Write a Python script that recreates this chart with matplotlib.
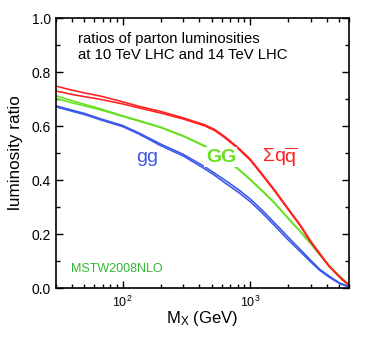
import numpy as np
import matplotlib
matplotlib.use("Agg")
import matplotlib.pyplot as plt
from matplotlib.ticker import LogLocator, MultipleLocator, FormatStrFormatter

plt.rcParams['font.family'] = ['Liberation Sans', 'DejaVu Sans']
plt.rcParams['mathtext.fontset'] = 'custom'
plt.rcParams['mathtext.rm'] = 'Liberation Sans'
plt.rcParams['mathtext.it'] = 'Liberation Sans:italic'
plt.rcParams['mathtext.bf'] = 'Liberation Sans:bold'

# %% data (centre value and half width of each band)
mass = [30, 40, 50, 67, 100, 135, 200, 300, 440, 530, 630, 800, 1000, 1250, 1570,
        2050, 2460, 3000, 3540, 4200, 5080, 6000]

qqbar = [0.739, 0.725, 0.716, 0.705, 0.686, 0.670, 0.651, 0.628, 0.603, 0.585, 0.560, 0.520,
         0.477, 0.420, 0.360, 0.285, 0.235, 0.172, 0.126, 0.080, 0.040, 0.010]
qqbar_err = [0.009, 0.008, 0.007, 0.006, 0.004, 0.003, 0.003, 0.002, 0.002, 0.002, 0.002, 0.002,
             0.002, 0.002, 0.002, 0.002, 0.002, 0.002, 0.002, 0.001, 0.001, 0.001]

GG = [0.707, 0.690, 0.678, 0.662, 0.637, 0.619, 0.595, 0.563, 0.526, 0.503, 0.478, 0.443,
      0.403, 0.360, 0.314, 0.252, 0.212, 0.165, 0.124, 0.082, 0.043, 0.012]
GG_err = [0.005, 0.004, 0.003, 0.002, 0.001, 0.001, 0.001, 0.001, 0.001, 0.001, 0.001, 0.001,
          0.001, 0.001, 0.001, 0.001, 0.001, 0.001, 0.001, 0.001, 0.001, 0.001]

gg = [0.673, 0.657, 0.645, 0.625, 0.600, 0.572, 0.530, 0.492, 0.446, 0.421, 0.396, 0.362,
      0.326, 0.283, 0.235, 0.178, 0.141, 0.100, 0.067, 0.042, 0.017, 0.005]
gg_err = [0.002, 0.002, 0.002, 0.002, 0.002, 0.002, 0.003, 0.003, 0.004, 0.004, 0.005, 0.005,
          0.005, 0.005, 0.005, 0.005, 0.004, 0.003, 0.002, 0.002, 0.001, 0.001]

curves = [(gg, gg_err, '#3a58e8'), (GG, GG_err, '#66e020'), (qqbar, qqbar_err, '#ff1f1f')]

# %% plot
fig = plt.figure(figsize=(3.82, 3.41), dpi=100)
ax = fig.add_axes([0.1466, 0.1554, 0.767, 0.7916])

x = np.array(mass)
for val, err, col in curves:
    val = np.array(val)
    err = np.array(err)
    ax.plot(x, val + err, color=col, lw=1.15)
    ax.plot(x, val - err, color=col, lw=1.15)

ax.set_xscale('log')
ax.set_xlim(30, 6000)
ax.set_ylim(0, 1.0)
ax.yaxis.set_major_locator(MultipleLocator(0.2))
ax.yaxis.set_minor_locator(MultipleLocator(0.1))
ax.yaxis.set_major_formatter(FormatStrFormatter('%.1f'))
ax.xaxis.set_major_locator(LogLocator(base=10, numticks=10))
ax.xaxis.set_minor_locator(LogLocator(base=10, subs=np.arange(2, 10), numticks=10))

ax.tick_params(which='both', direction='in', top=True, right=True, width=1.0)
ax.tick_params(which='major', length=5, labelsize=10)
ax.tick_params(which='minor', length=3)
ax.tick_params(axis='x', which='major', labelsize=9, pad=5)
for s in ax.spines.values():
    s.set_linewidth(1.2)

ax.set_xlabel(r'M$_\mathrm{X}$ (GeV)', fontsize=12, labelpad=-1)
ax.set_ylabel('luminosity ratio', fontsize=12.3, labelpad=6)

ax.text(0.075, 0.95, 'ratios of parton luminosities\nat 10 TeV LHC and 14 TeV LHC',
        transform=ax.transAxes, fontsize=10.7, va='top', ha='left', linespacing=1.25)
ax.text(0.05, 0.07, 'MSTW2008NLO', transform=ax.transAxes, fontsize=9,
        color='#33b833', ha='left', va='center')

ax.text(0.31, 0.485, 'gg', transform=ax.transAxes, fontsize=14, color='#3a58e8',
        ha='center', va='center')
ax.text(0.563, 0.485, 'GG', transform=ax.transAxes, fontsize=14, color='#66e020',
        fontweight='bold', ha='center', va='center',
        bbox=dict(facecolor='white', edgecolor='none', pad=1))
ax.text(0.765, 0.485, r'$\Sigma$q$\overline{\mathrm{q}}$', transform=ax.transAxes,
        fontsize=14, color='#ff1f1f', ha='center', va='center')

fig.savefig('out.png', dpi=100)
